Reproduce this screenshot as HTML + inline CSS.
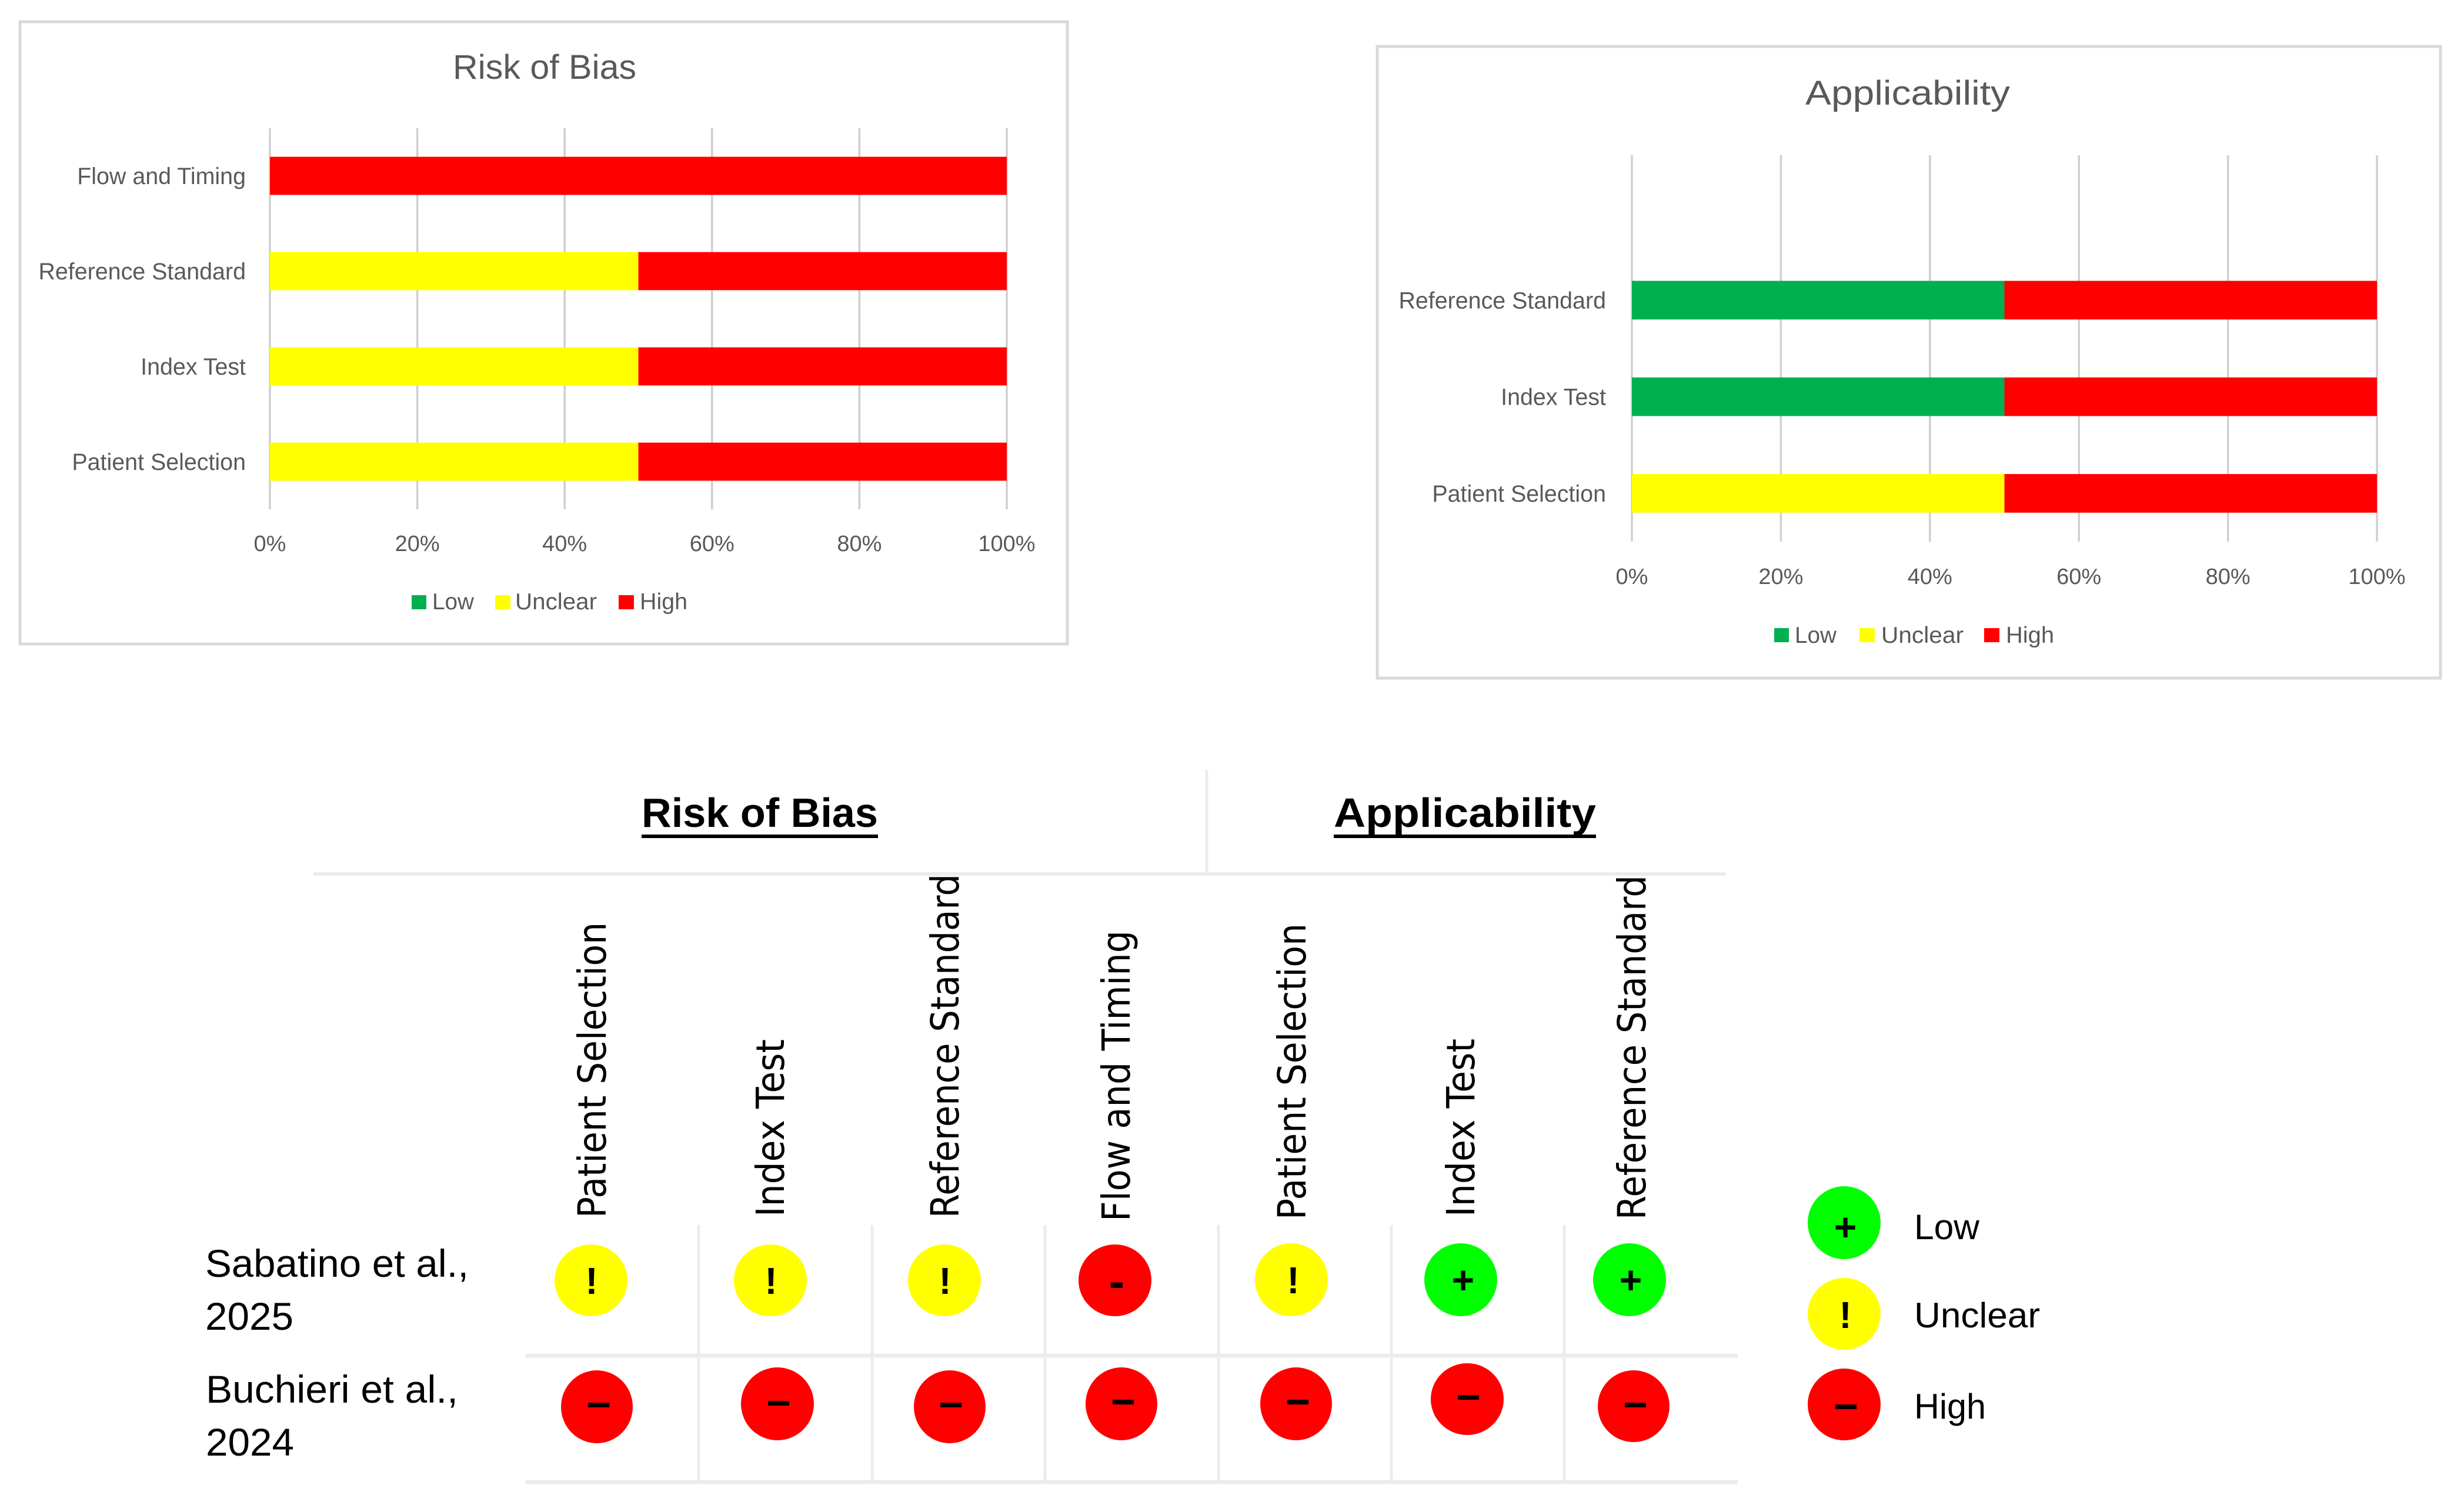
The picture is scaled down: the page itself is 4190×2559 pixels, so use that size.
<!DOCTYPE html>
<html lang="en">
<head>
<meta charset="utf-8">
<title>Risk of Bias and Applicability</title>
<style>
html,body{margin:0;padding:0;background:#fff;}
svg{display:block;}
text{font-family:"Liberation Sans",sans-serif;}
.ct{fill:#595959;font-size:58px;}
.lg{fill:#595959;font-size:39px;}
.rot{font-family:"DejaVu Sans",sans-serif;font-size:66px;fill:#000;}
.th{font-weight:700;font-size:70px;fill:#000;}
.st{font-size:66px;fill:#000;}
.kt{font-size:60px;fill:#000;}
.gl{font-weight:700;fill:#000;text-anchor:middle;}
.ln{stroke:#ececec;}
</style>
</head>
<body>
<svg id="fig" xmlns="http://www.w3.org/2000/svg" width="4190" height="2559" viewBox="0 0 4190 2559">
  <rect width="4190" height="2559" fill="#fff"/>

  <!-- Chart 1 -->
  <g id="chart-rob">
    <rect x="34" y="37" width="1781" height="1058" fill="#fff" stroke="#d9d9d9" stroke-width="5"/>
    <text class="ct" x="926" y="134" text-anchor="middle" textLength="312" lengthAdjust="spacingAndGlyphs">Risk of Bias</text>
    <g>
      <rect x="700" y="1012" width="25" height="24" fill="#00b050"/>
      <text class="lg" x="735" y="1036" textLength="71" lengthAdjust="spacingAndGlyphs">Low</text>
      <rect x="842" y="1012" width="26" height="24" fill="#ffff00"/>
      <text class="lg" x="876" y="1036" textLength="139" lengthAdjust="spacingAndGlyphs">Unclear</text>
      <rect x="1052" y="1012" width="26" height="24" fill="#ff0000"/>
      <text class="lg" x="1088" y="1036" textLength="81" lengthAdjust="spacingAndGlyphs">High</text>
    </g>
  </g>

  <!-- Chart 2 -->
  <g id="chart-app">
    <rect x="2342" y="79" width="1808" height="1074" fill="#fff" stroke="#d9d9d9" stroke-width="5"/>
    <text class="ct" x="3244" y="178" text-anchor="middle" textLength="348" lengthAdjust="spacingAndGlyphs">Applicability</text>
    <g>
      <rect x="3017" y="1068" width="25" height="24" fill="#00b050"/>
      <text class="lg" x="3052" y="1093" textLength="71" lengthAdjust="spacingAndGlyphs">Low</text>
      <rect x="3162" y="1068" width="26" height="24" fill="#ffff00"/>
      <text class="lg" x="3199" y="1093" textLength="140" lengthAdjust="spacingAndGlyphs">Unclear</text>
      <rect x="3374" y="1068" width="26" height="24" fill="#ff0000"/>
      <text class="lg" x="3411" y="1093" textLength="82" lengthAdjust="spacingAndGlyphs">High</text>
    </g>
  </g>

  <!-- Traffic light table -->
  <g>
    <line class="ln" x1="533" y1="1486" x2="2935" y2="1486" stroke-width="6"/>
    <line class="ln" x1="2052" y1="1309" x2="2052" y2="1486" stroke-width="5"/>
    <line class="ln" x1="894" y1="2305" x2="2955" y2="2305" stroke-width="7"/>
    <line class="ln" x1="894" y1="2520" x2="2955" y2="2520" stroke-width="7"/>
    <line class="ln" x1="1188" y1="2083" x2="1188" y2="2520" stroke-width="5"/>
    <line class="ln" x1="1483" y1="2083" x2="1483" y2="2520" stroke-width="5"/>
    <line class="ln" x1="1777" y1="2083" x2="1777" y2="2520" stroke-width="5"/>
    <line class="ln" x1="2072" y1="2083" x2="2072" y2="2520" stroke-width="5"/>
    <line class="ln" x1="2366" y1="2083" x2="2366" y2="2520" stroke-width="5"/>
    <line class="ln" x1="2660" y1="2083" x2="2660" y2="2520" stroke-width="5"/>

    <text class="th" x="1091" y="1406" textLength="402" lengthAdjust="spacingAndGlyphs">Risk of Bias</text>
    <rect x="1091" y="1419" width="402" height="6" fill="#000"/>
    <text class="th" x="2268" y="1406" textLength="446" lengthAdjust="spacingAndGlyphs">Applicability</text>
    <rect x="2268" y="1419" width="446" height="6" fill="#000"/>

    <text class="rot" transform="translate(1030 2071) rotate(-90)" textLength="503" lengthAdjust="spacingAndGlyphs">Patient Selection</text>
    <text class="rot" transform="translate(1333 2069) rotate(-90)" textLength="302" lengthAdjust="spacingAndGlyphs">Index Test</text>
    <text class="rot" transform="translate(1630 2071) rotate(-90)" textLength="585" lengthAdjust="spacingAndGlyphs">Reference Standard</text>
    <text class="rot" transform="translate(1921 2077) rotate(-90)" textLength="495" lengthAdjust="spacingAndGlyphs">Flow and Timing</text>
    <text class="rot" transform="translate(2220 2074) rotate(-90)" textLength="504" lengthAdjust="spacingAndGlyphs">Patient Selection</text>
    <text class="rot" transform="translate(2507 2069) rotate(-90)" textLength="303" lengthAdjust="spacingAndGlyphs">Index Test</text>
    <text class="rot" transform="translate(2798 2074) rotate(-90)" textLength="586" lengthAdjust="spacingAndGlyphs">Reference Standard</text>

    <text class="st" x="349" y="2171" textLength="448" lengthAdjust="spacingAndGlyphs">Sabatino et al.,</text>
    <text class="st" x="349" y="2261" textLength="150" lengthAdjust="spacingAndGlyphs">2025</text>
    <text class="st" x="350" y="2385" textLength="429" lengthAdjust="spacingAndGlyphs">Buchieri et al.,</text>
    <text class="st" x="350" y="2475" textLength="150" lengthAdjust="spacingAndGlyphs">2024</text>

    <!-- row 1 -->
    <g><ellipse cx="1005" cy="2177" rx="62" ry="61" fill="#ffff00"/><text class="gl" x="1006" y="2200" font-size="64">!</text></g>
    <g><ellipse cx="1310" cy="2177" rx="62" ry="61" fill="#ffff00"/><text class="gl" x="1311" y="2200" font-size="64">!</text></g>
    <g><ellipse cx="1606" cy="2177" rx="62" ry="61" fill="#ffff00"/><text class="gl" x="1607" y="2200" font-size="64">!</text></g>
    <g><ellipse cx="1896" cy="2177" rx="62" ry="61" fill="#ff0000"/><text class="gl" x="1899" y="2206" font-size="80">-</text></g>
    <g><ellipse cx="2196" cy="2176" rx="62" ry="62" fill="#ffff00"/><text class="gl" x="2199" y="2199" font-size="64">!</text></g>
    <g><ellipse cx="2484" cy="2176" rx="62" ry="62" fill="#00ff00"/><text class="gl" x="2488" y="2199" font-size="66">+</text></g>
    <g><ellipse cx="2771" cy="2176" rx="62" ry="62" fill="#00ff00"/><text class="gl" x="2773" y="2199" font-size="66">+</text></g>
    <!-- row 2 -->
    <g><ellipse cx="1015" cy="2392" rx="61" ry="62" fill="#ff0000"/><text class="gl" x="1018" y="2413" font-size="72">−</text></g>
    <g><ellipse cx="1322" cy="2387" rx="62" ry="62" fill="#ff0000"/><text class="gl" x="1324" y="2410" font-size="72">−</text></g>
    <g><ellipse cx="1615" cy="2392" rx="61" ry="62" fill="#ff0000"/><text class="gl" x="1617" y="2413" font-size="72">−</text></g>
    <g><ellipse cx="1907" cy="2387" rx="61" ry="62" fill="#ff0000"/><text class="gl" x="1910" y="2408" font-size="72">−</text></g>
    <g><ellipse cx="2204" cy="2387" rx="61" ry="62" fill="#ff0000"/><text class="gl" x="2207" y="2408" font-size="72">−</text></g>
    <g><ellipse cx="2495" cy="2379" rx="62" ry="61" fill="#ff0000"/><text class="gl" x="2497" y="2400" font-size="72">−</text></g>
    <g><ellipse cx="2778" cy="2391" rx="61" ry="61" fill="#ff0000"/><text class="gl" x="2781" y="2413" font-size="72">−</text></g>
  </g>

  <!-- key -->
  <g>
    <g><ellipse cx="3136" cy="2079" rx="62" ry="62" fill="#00ff00"/><text class="gl" x="3138" y="2109" font-size="66">+</text></g>
    <text class="kt" x="3255" y="2107" textLength="111" lengthAdjust="spacingAndGlyphs">Low</text>
    <g><ellipse cx="3136" cy="2234" rx="62" ry="61" fill="#ffff00"/><text class="gl" x="3138" y="2258" font-size="64">!</text></g>
    <text class="kt" x="3255" y="2257" textLength="214" lengthAdjust="spacingAndGlyphs">Unclear</text>
    <g><ellipse cx="3136" cy="2388" rx="62" ry="61" fill="#ff0000"/><text class="gl" x="3139" y="2416" font-size="72">−</text></g>
    <text class="kt" x="3255" y="2412" textLength="122" lengthAdjust="spacingAndGlyphs">High</text>
  </g>
</svg>

<script>
// Risk of Bias chart data (bottom to top)
const robCategories = ["Patient Selection", "Index Test", "Reference Standard", "Flow and Timing"];
const robLow = [0, 0, 0, 0];
const robUnclear = [50, 50, 50, 0];
const robHigh = [50, 50, 50, 100];

// Applicability chart data (bottom to top; the top band is empty)
const appCategories = ["Patient Selection", "Index Test", "Reference Standard", ""];
const appLow = [0, 50, 50, 0];
const appUnclear = [50, 0, 0, 0];
const appHigh = [50, 50, 50, 0];

// Axis tick labels
const tickValues = [0, 20, 40, 60, 80, 100];
const tickLabels = ["0%", "20%", "40%", "60%", "80%", "100%"];

const SVG_NS = "http://www.w3.org/2000/svg";

function make(parent, tag, attrs, txt) {
  const el = document.createElementNS(SVG_NS, tag);
  for (const k in attrs) el.setAttribute(k, attrs[k]);
  if (txt !== undefined) el.textContent = txt;
  parent.appendChild(el);
  return el;
}

function drawChart(root, prefix, frame, categories, low, unclear, high) {
  const xScale = v => frame.x0 + (v / 100) * (frame.x1 - frame.x0);
  const band = (frame.y1 - frame.y0) / categories.length;
  const yScale = i => frame.y1 - band * (i + 0.5);
  const barH = band * 0.4;

  tickValues.forEach((t, i) => {
    const grid = make(root, "line", {
      x1: xScale(t), x2: xScale(t), y1: frame.y0, y2: frame.y1,
      stroke: "#cfcfcf", "stroke-width": 3.5
    });
    
    
    const label = make(root, "text", {
      x: xScale(t), y: frame.tickY, "text-anchor": "middle",
      fill: "#595959", "font-size": 38
    }, tickLabels[i]);
    
    
  });

  categories.forEach((cat, i) => {
    const cy = yScale(i);
    const total = low[i] + unclear[i] + high[i];
    if (cat) {
      const label = make(root, "text", {
        x: frame.labelX, y: cy + 14, "text-anchor": "end",
        fill: "#595959", "font-size": 39.4
      }, cat);
      
      
    }
    if (!total) return;
    let cum = 0;
    [[low[i], "#00b050", "low"], [unclear[i], "#ffff00", "unclear"], [high[i], "#ff0000", "high"]].forEach(s => {
      const share = s[0] / total * 100;
      if (share > 0) {
        const bar = make(root, "rect", {
          x: xScale(cum), y: cy - barH / 2,
          width: xScale(cum + share) - xScale(cum), height: barH,
          fill: s[1]
        });
        
        
      }
      cum += share;
    });
  });
}

drawChart(document.getElementById("chart-rob"), "risk-of-bias",
  { x0: 459, x1: 1712, y0: 218, y1: 866, tickY: 937, labelX: 418 },
  robCategories, robLow, robUnclear, robHigh);
drawChart(document.getElementById("chart-app"), "applicability",
  { x0: 2775, x1: 4042, y0: 264, y1: 921, tickY: 993, labelX: 2731 },
  appCategories, appLow, appUnclear, appHigh);
</script>
</body>
</html>
